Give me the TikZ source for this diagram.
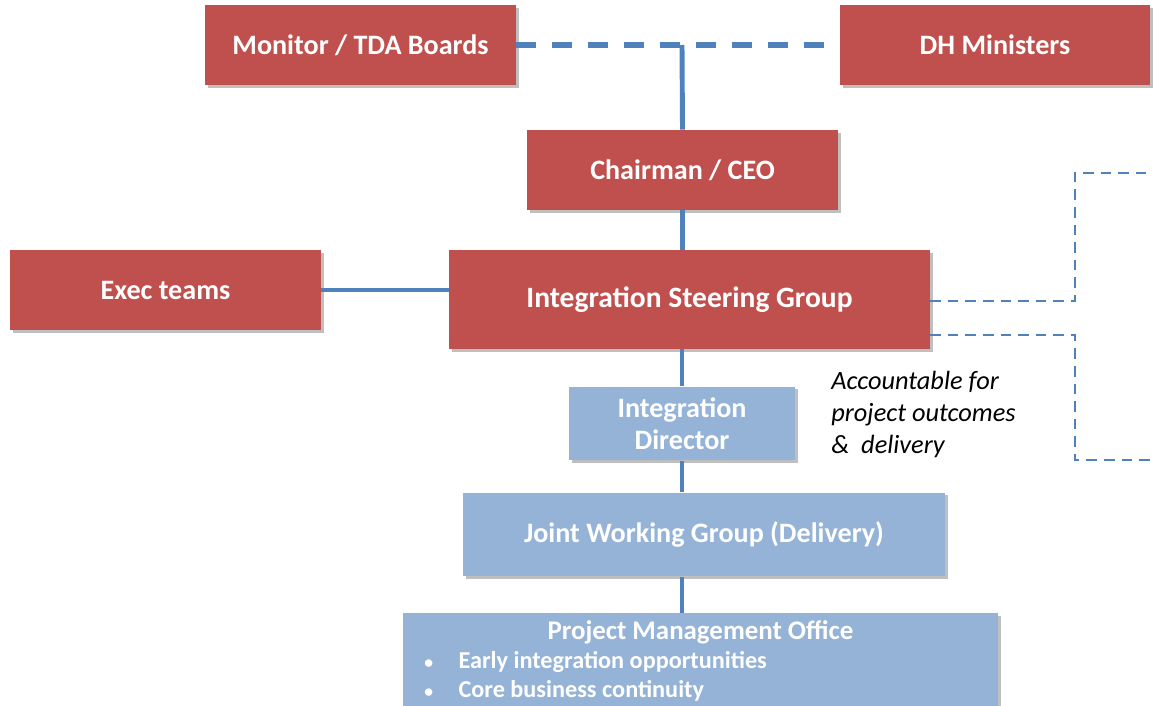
\documentclass[tikz,border=0pt]{standalone}
\usepackage{fontspec}
\setmainfont{Carlito}
\usetikzlibrary{shadows}
\definecolor{boardred}{HTML}{C0504D}
\definecolor{teamblue}{HTML}{95B3D7}
\definecolor{linkblue}{HTML}{4F81BD}
\begin{document}
\begin{tikzpicture}[x=0.02cm, y=-0.02cm,
    red node/.style={rectangle, fill=boardred, text=white, inner sep=0pt, align=center,
      font=\fontsize{16}{18.2}\selectfont\bfseries,
      drop shadow={shadow xshift=1.5pt, shadow yshift=-1.5pt, opacity=0.25, fill=black}},
    blue node/.style={red node, fill=teamblue},
    pmo text/.style={text=white, inner sep=0pt, font=\fontsize{13.8}{16}\selectfont\bfseries},
    link/.style={draw=linkblue, line width=2.8pt},
    loose link/.style={draw=linkblue, line width=3.4pt, dash pattern=on 11pt off 9.5pt},
    side link/.style={draw=linkblue, line width=1.1pt, dash pattern=on 6pt off 4pt}]
        \useasboundingbox (0,0) rectangle (1153,706);

          % top row
          \node[red node, minimum width=6.22cm, minimum height=1.6cm] (monitor) at (360.5,45) {Monitor / TDA Boards};
          \node[red node, minimum width=6.2cm, minimum height=1.6cm] (dh) at (995,45) {DH Ministers};
          \coordinate (joint) at (682,45);

          \node[red node, minimum width=6.22cm, minimum height=1.6cm] (chair) at (682.5,170) {Chairman / CEO};
          \node[red node, minimum width=6.22cm, minimum height=1.6cm] (exec) at (165.5,290) {Exec teams};
          \node[red node, minimum width=9.62cm, minimum height=1.98cm, font=\fontsize{16.8}{19}\selectfont\bfseries] (isg) at (689.5,299.5) {Integration Steering Group};

          % delivery side
          \node[blue node, minimum width=4.52cm, minimum height=1.48cm] (director) at (682,423.5) {Integration\\Director};
          \node[blue node, minimum width=9.64cm, minimum height=1.68cm] (jwg) at (704,534.5) {Joint Working Group (Delivery)};
          \node[blue node, minimum width=11.9cm, minimum height=2cm, anchor=north] (pmo) at (700.5,613) {};
          \node[pmo text, font=\fontsize{15.3}{17}\selectfont\bfseries] (pmo title) at (700.5,632) {Project Management Office};
          \node[pmo text, anchor=west] (pmo early) at (424,662) {{\fontsize{10}{10}\selectfont\textbullet}\hspace{1.05em}Early integration opportunities};
          \node[pmo text, anchor=west] (pmo core) at (424,691) {{\fontsize{10}{10}\selectfont\textbullet}\hspace{1.05em}Core business continuity};

          \node[align=left, anchor=north west, inner sep=0pt, font=\fontsize{15}{18.1}\selectfont\itshape] (remit) at (831,371) {Accountable for\\project outcomes\\\&\ \ delivery};

          % right hand brackets
          \coordinate (upper end) at (1153,173);
          \coordinate (lower end) at (1153,460);

          \path[loose link] (monitor.east) -- (dh.west);
          \path[link] (joint) -- (chair.north);
          \path[link] (chair.south) -- (isg.north -| chair.south);
          \path[link] (exec.east) -- (exec.east -| isg.west);
          \path[link] (isg.south -| director.north) -- (director.north);
          \path[link] (director.south) -- (director.south |- jwg.north);
          \path[link] (jwg.south -| director.south) -- (pmo.north -| director.south);
          \path[side link] ([yshift=-1pt]isg.east) -| (1075,173) -- (upper end);
          \path[side link] ([yshift=-0.71cm]isg.east) -| (1075,460) -- (lower end);

\end{tikzpicture}
\end{document}
